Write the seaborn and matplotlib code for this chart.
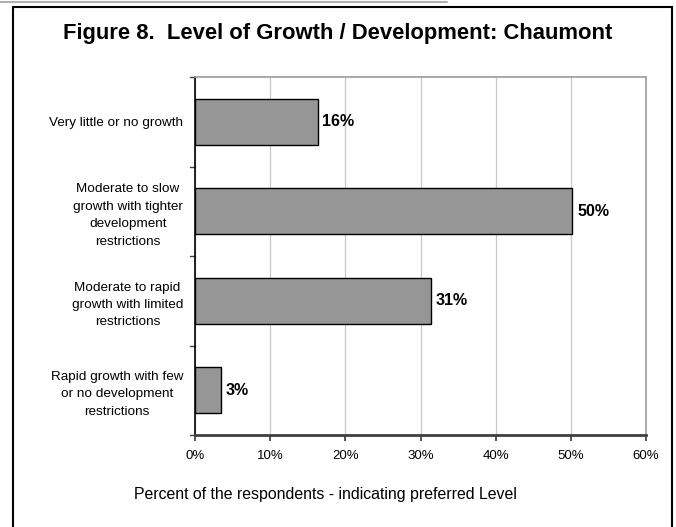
import pandas as pd
import seaborn as sns
import matplotlib.pyplot as plt
from matplotlib.patches import Rectangle
from matplotlib.lines import Line2D

categories = [
    "Very little or no growth",
    "Moderate to slow\ngrowth with tighter\ndevelopment\nrestrictions",
    "Moderate to rapid\ngrowth with limited\nrestrictions",
    "Rapid growth with few\nor no development\nrestrictions",
]
values = [16.3, 50.2, 31.4, 3.4]
labels = ["16%", "50%", "31%", "3%"]
xticks = [0, 10, 20, 30, 40, 50, 60]

sns.set_theme(style="white")
plt.rcParams['font.family'] = ['Liberation Sans', 'DejaVu Sans']
plt.rcParams['text.color'] = 'black'
plt.rcParams['xtick.color'] = 'black'
plt.rcParams['ytick.color'] = 'black'
plt.rcParams['axes.labelcolor'] = 'black'

data = pd.DataFrame({"cat": categories, "val": values})

fig = plt.figure(figsize=(6.76, 5.27), dpi=100)
ax = fig.add_axes([195/676, 1 - 435/527, (646-195)/676, (435-77)/527])

sns.barplot(x="val", y="cat", data=data, color="#969696", edgecolor="black",
            linewidth=1.0, width=0.51, saturation=1, ax=ax)

for i, (v, t) in enumerate(zip(values, labels)):
    ax.text(v + 0.65, i, t, va="center", ha="left", fontsize=11.5, fontweight="bold")

ax.set_xlim(0, 60)
ax.set_ylim(3.5, -0.5)
ax.set_xticks(xticks)
ax.set_xticklabels([f"{x}%" for x in xticks], fontsize=9.5)
ax.xaxis.grid(True, color="#c8c8c8", linewidth=0.9)
ax.set_axisbelow(True)
ax.set_yticks(range(4))
ax.set_yticklabels(categories, fontsize=9.7, linespacing=1.6, ha="right",
                   multialignment="center")
ax.tick_params(axis="y", length=0, pad=8.6)
ax.tick_params(axis="x", length=4, color="#404040", direction="out", bottom=True, pad=7)
for b in [-0.5, 0.5, 1.5, 2.5, 3.5]:
    ax.add_line(Line2D([-0.011, 0], [b, b], color="#404040", linewidth=1, clip_on=False,
                       transform=ax.get_yaxis_transform()))
ax.set_xlabel("")
ax.set_ylabel("")

ax.spines["left"].set_color("black")
ax.spines["left"].set_linewidth(1.2)
ax.spines["bottom"].set_color("#404040")
ax.spines["bottom"].set_linewidth(2)
ax.spines["top"].set_color("#a0a0a0")
ax.spines["right"].set_color("#a0a0a0")

fig.text(338/676, 1 - 33/527, "Figure 8.  Level of Growth / Development: Chaumont",
         ha="center", va="center", fontsize=15.8, fontweight="bold")
fig.text(325/676, 1 - 494/527, "Percent of the respondents - indicating preferred Level",
         ha="center", va="center", fontsize=11.4)

fig.patches.append(Rectangle((13/676, -0.05), (672-13)/676, (527-7)/527 + 0.05,
                             transform=fig.transFigure, fill=False, edgecolor="black",
                             linewidth=1.5))
fig.lines.append(Line2D([0, 447/676], [1 - 1.5/527, 1 - 1.5/527], transform=fig.transFigure,
                        color="#b0b0b0", linewidth=1.5))

fig.savefig("out.png", dpi=100)
